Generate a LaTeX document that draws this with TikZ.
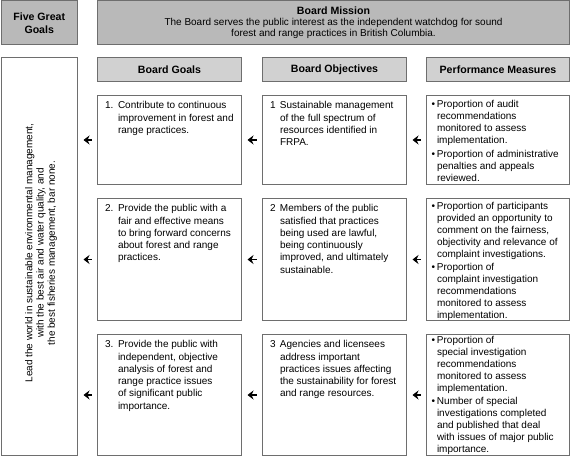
\documentclass[tikz,border=0pt]{standalone}
\usepackage{fontspec}
\setmainfont{Liberation Sans}
\usetikzlibrary{arrows.meta,calc}

\definecolor{edgegray}{HTML}{6E6E6E}
\definecolor{topgray}{HTML}{B9B9B9}
\definecolor{headgray}{HTML}{D1D1D1}

% 表格单元内的文字
\newcommand{\gcell}[2]{\parbox[t][#1pt][t]{129pt}{\raggedright\vspace*{6pt}#2\par}}
\newcommand{\mcell}[3]{\parbox[t][#1pt][t]{133pt}{\raggedright\vspace*{#2pt}#3\par}}
\newcommand{\gnum}[2]{\hangindent=#1\hangafter=1\noindent\makebox[#1][l]{#2}}
\newcommand{\mbul}{\par\hangindent=5.5pt\hangafter=1\noindent\makebox[5.5pt][l]{\textbullet}}
\newcommand{\cellbr}{\hfil\break}

\tikzset{
  frame/.style={draw=edgegray, line width=1pt, anchor=north west, inner sep=0pt},
  topbox/.style={frame, fill=topgray, align=center},
  headbox/.style={frame, fill=headgray, minimum height=24, font=\fontsize{10.6}{12}\selectfont\bfseries},
  goalcell/.style={frame, inner xsep=7.5pt, font=\fontsize{10}{12.3}\selectfont},
  meascell/.style={frame, inner xsep=5pt, font=\fontsize{10}{12}\selectfont},
  back/.style={-{Stealth[length=6pt,width=9pt,inset=2pt]}, line width=1.8pt}
}

\begin{document}
\begin{tikzpicture}[x=1pt,y=-1pt]
  \useasboundingbox (0,0) rectangle (570,457);
  % 顶部两个框
  \node[topbox, minimum width=76.5, minimum height=43.5, font=\fontsize{10.6}{13}\selectfont\bfseries] (great) at (0.5,0.5) {Five Great\\Goals};
  \node[topbox, minimum width=472, minimum height=43.5, font=\fontsize{10}{11.4}\selectfont] (mission) at (97,0.5)
    {{\fontsize{10.6}{11.4}\selectfont\bfseries Board Mission}\\The Board serves the public interest as the independent watchdog for sound\\forest and range practices in British Columbia.};
  % 左侧竖框
  \node[frame, minimum width=76.5, minimum height=398] (lead) at (0.5,57) {};
  \node[rotate=90, align=center, font=\fontsize{10}{11.3}\selectfont] (leadtext) at (41,253)
    {Lead the world in sustainable environmental management,\\with the best air and water quality, and\\the best fisheries management, bar none.};
  % 列标题
  \foreach \n/\x/\w/\t in {hg/97/144/Board Goals, ho/262/144/Board Objectives, hm/426/143/Performance Measures}
    \node[headbox, minimum width=\w] (\n) at (\x,57) {\t};
  % Board Goals
  \node[goalcell] (g1) at (97,95) {\gcell{89}{\gnum{13pt}{1.}Contribute to continuous\cellbr improvement in forest and\cellbr range practices.}};
  \node[goalcell] (g2) at (97,198) {\gcell{122}{\gnum{13pt}{2.}Provide the public with a\cellbr fair and effective means\cellbr to bring forward concerns\cellbr about forest and range\cellbr practices.}};
  \node[goalcell] (g3) at (97,334) {\gcell{121}{\gnum{13pt}{3.}Provide the public with\cellbr independent, objective\cellbr analysis of forest and\cellbr range practice issues\cellbr of significant public\cellbr importance.}};
  % Board Objectives
  \node[goalcell] (o1) at (262,95) {\gcell{89}{\gnum{10pt}{1}Sustainable management\cellbr of the full spectrum of\cellbr resources identified in\cellbr FRPA.}};
  \node[goalcell] (o2) at (262,198) {\gcell{122}{\gnum{10pt}{2}Members of the public\cellbr satisfied that practices\cellbr being used are lawful,\cellbr being continuously\cellbr improved, and ultimately\cellbr sustainable.}};
  \node[goalcell] (o3) at (262,334) {\gcell{121}{\gnum{10pt}{3}Agencies and licensees\cellbr address important\cellbr practices issues affecting\cellbr the sustainability for forest\cellbr and range resources.}};
  % Performance Measures
  \node[meascell] (m1) at (426,95) {\mcell{89}{5}{\mbul Proportion of audit\cellbr recommendations\cellbr monitored to assess\cellbr implementation.
    \par\vspace{1.5pt}\mbul Proportion of administrative\cellbr penalties and appeals\cellbr reviewed.}};
  \node[meascell] (m2) at (426,198) {\mcell{122}{3.5}{\mbul Proportion of participants\cellbr provided an opportunity to\cellbr comment on the fairness,\cellbr objectivity and relevance of\cellbr complaint investigations.
    \par\vspace{1pt}\mbul Proportion of\cellbr complaint investigation\cellbr recommendations\cellbr monitored to assess\cellbr implementation.}};
  \node[meascell] (m3) at (426,334) {\mcell{121}{2}{\mbul Proportion of\cellbr special investigation\cellbr recommendations\cellbr monitored to assess\cellbr implementation.
    \par\vspace{1pt}\mbul Number of special\cellbr investigations completed\cellbr and published that deal\cellbr with issues of major public\cellbr importance.}};
  % 箭头
  \foreach \r in {1,2,3}{
    \draw[back] ([xshift=-5.5pt]m\r.west) -- ([xshift=5.5pt]o\r.east);
    \draw[back] ([xshift=-5.5pt]o\r.west) -- ([xshift=5.5pt]g\r.east);
    \draw[back] ([xshift=-5.5pt]g\r.west) -- ($(g\r.west -| lead.east)+(5.5,0)$);
  }
\end{tikzpicture}
\end{document}
